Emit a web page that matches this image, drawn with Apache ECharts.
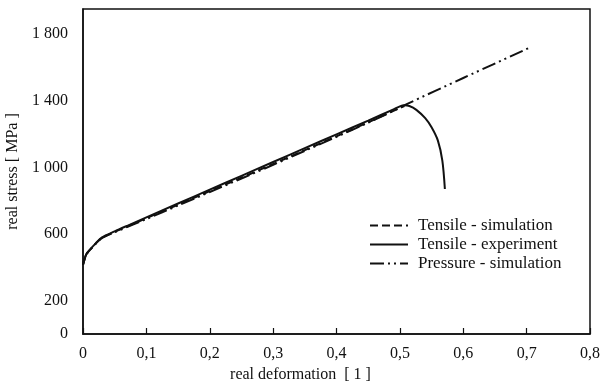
<!DOCTYPE html>
<html>
<head>
<meta charset="utf-8">
<script src="https://cdn.jsdelivr.net/npm/echarts@6/dist/echarts.min.js"></script>
<style>html,body{margin:0;padding:0;background:#fff}#c{width:602px;height:387px}</style>
</head>
<body>
<div id="c"></div>
<script>
var expX = [0, 0.005, 0.01, 0.02, 0.03, 0.05, 0.075, 0.1, 0.15, 0.2, 0.25, 0.3, 0.35, 0.4, 0.45, 0.49, 0.5, 0.507, 0.515, 0.526, 0.54, 0.55, 0.56, 0.567, 0.571];
var expY = [415, 478, 502, 544, 580, 616, 658, 700, 783, 866, 949, 1032, 1115, 1198, 1280, 1348, 1366, 1372, 1368, 1345, 1295, 1240, 1160, 1040, 870];
var simX = [0, 0.005, 0.01, 0.02, 0.03, 0.05, 0.075, 0.1, 0.15, 0.2, 0.25, 0.3, 0.35, 0.4, 0.45, 0.5, 0.507];
var simY = [415, 477, 501, 542, 577, 613, 654, 695, 776, 857, 938, 1020, 1103, 1186, 1270, 1356, 1368];
var presX = [0, 0.005, 0.01, 0.02, 0.03, 0.05, 0.075, 0.1, 0.15, 0.2, 0.25, 0.3, 0.35, 0.4, 0.45, 0.5, 0.51, 0.6, 0.707];
var presY = [415, 476, 500, 541, 575, 610, 650, 690, 771, 852, 933, 1015, 1099, 1183, 1268, 1358, 1378, 1536, 1722];
var xTicks = [0, 0.1, 0.2, 0.3, 0.4, 0.5, 0.6, 0.7, 0.8];
var yTickLabels = [0, 200, 600, 1000, 1400, 1800];
var seriesNames = ['Tensile - simulation', 'Tensile - experiment', 'Pressure - simulation'];

function pairs(xs, ys) { return xs.map(function (x, i) { return [x, ys[i]]; }); }
var font = 'Liberation Serif';

var chart = echarts.init(document.getElementById('c'));
chart.setOption({
  animation: false,
  backgroundColor: '#fff',
  textStyle: { fontFamily: font, color: '#111' },
  grid: { left: 83, right: 12, top: 9, bottom: 53, containLabel: false, outerBoundsMode: 'none',
    show: true, borderColor: '#111', borderWidth: 1.5, backgroundColor: 'transparent' },
  legend: {
    orient: 'vertical', left: 364, top: 212, itemWidth: 38, itemHeight: 14, itemGap: 2, itemStyle: { opacity: 0 },
    textStyle: { fontFamily: font, fontSize: 17, color: '#111', padding: [0, 0, 0, 5] },
    data: seriesNames
  },
  xAxis: {
    type: 'value', min: 0, max: 0.8, interval: 0.1,
    name: 'real deformation  [ 1 ]', nameLocation: 'middle', nameGap: 33,
    nameTextStyle: { fontFamily: font, fontSize: 16, color: '#111', padding: [0, 72, 0, 0] },
    axisLine: { show: true, lineStyle: { color: '#111', width: 1.5 } },
    axisTick: { show: true, inside: true, length: 6, lineStyle: { color: '#111', width: 1.2 } },
    splitLine: { show: false },
    axisLabel: { fontFamily: font, fontSize: 16, color: '#111', margin: 12,
      formatter: function (v) { return String(Math.round(v * 10) / 10).replace('.', ','); } }
  },
  yAxis: {
    type: 'value', min: 0, max: 1950, interval: 200,
    name: 'real stress [ MPa ]', nameLocation: 'middle', nameGap: 52,
    nameTextStyle: { fontFamily: font, fontSize: 16, color: '#111', padding: [0, 0, 0, 0] },
    axisLine: { show: true, lineStyle: { color: '#111', width: 1.5 } },
    axisTick: { show: false },
    splitLine: { show: false },
    axisLabel: { fontFamily: font, fontSize: 16, color: '#111', margin: 15, showMaxLabel: false,
      formatter: function (v) {
        if (yTickLabels.indexOf(v) < 0) return '';
        return v >= 1000 ? Math.floor(v / 1000) + ' ' + String(v % 1000).padStart(3, '0') : String(v);
      } }
  },
  series: [
    { name: seriesNames[0], type: 'line', data: pairs(simX, simY), showSymbol: false, symbol: 'none', smooth: 0.3,
      lineStyle: { color: '#111', width: 2, type: [8, 4] }, itemStyle: { color: '#111' }, z: 2 },
    { name: seriesNames[1], type: 'line', data: pairs(expX, expY), showSymbol: false, symbol: 'none', smooth: 0.3,
      lineStyle: { color: '#111', width: 2 }, itemStyle: { color: '#111' }, z: 3 },
    { name: seriesNames[2], type: 'line', data: pairs(presX, presY), showSymbol: false, symbol: 'none', smooth: 0.3,
      lineStyle: { color: '#111', width: 2, type: [14, 4, 2, 4, 2, 4] }, itemStyle: { color: '#111' }, z: 2 }
  ]
});
</script>
</body>
</html>
